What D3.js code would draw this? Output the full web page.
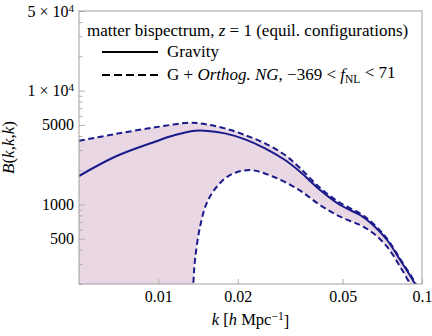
<!DOCTYPE html>
<html>
<head>
<meta charset="utf-8">
<script src="https://cdn.jsdelivr.net/npm/d3@7"></script>
<style>
  body { margin: 0; background: #fff; }
  svg text { font-family: "Liberation Serif", "Times New Roman", Times, "DejaVu Serif", serif; }
</style>
</head>
<body>
<div id="chart"></div>
<script>
// values (k in h/Mpc, B in arbitrary units)
var kGrav = [0.005, 0.00685, 0.00971, 0.01157, 0.01377, 0.0150, 0.0179, 0.02132, 0.02538, 0.03023, 0.03447, 0.04105, 0.0489, 0.0582, 0.0652, 0.0737, 0.0826, 0.0941, 0.098];
var bGrav = [1776, 2622, 3552, 4066, 4430, 4440, 4208, 3728, 3108, 2454, 1937, 1338, 988, 807, 659, 487, 325, 200, 160];

var kUpper = [0.005, 0.00685, 0.00971, 0.01318, 0.0150, 0.0179, 0.02132, 0.02538, 0.03023, 0.03447, 0.04105, 0.0489, 0.0582, 0.0652, 0.0737, 0.0826, 0.0941, 0.098];
var bUpper = [3624, 4150, 4752, 5215, 5078, 4656, 4066, 3439, 2714, 2086, 1400, 1030, 835, 680, 500, 333, 205, 165];

var kLower = [0.01345, 0.01357, 0.01377, 0.01439, 0.01526, 0.01665, 0.0187, 0.02227, 0.0273, 0.0339, 0.04105, 0.0489, 0.0582, 0.0652, 0.0737, 0.0826, 0.0901, 0.093];
var bLower = [140, 200, 325, 637, 1028, 1430, 1812, 2004, 1750, 1357, 988, 780, 659, 561, 425, 284, 200, 170];

var xTicks = [0.01, 0.02, 0.05, 0.1];
var xTickLabels = ["0.01", "0.02", "0.05", "0.1"];
var yTicks = [500, 1000, 5000, 10000, 50000];
var yTickLabels = ["500", "1000", "5000", "1 × 10|4", "5 × 10|4"];
var yMinor = [200, 300, 400, 600, 700, 800, 900, 2000, 3000, 4000, 6000, 7000, 8000, 9000, 20000, 30000, 40000];

var W = 432, H = 336;
var margin = { top: 11, right: 10, bottom: 52, left: 79 };
var width = W - margin.left - margin.right,
    height = H - margin.top - margin.bottom;

var serif = '"Liberation Serif", "Times New Roman", Times, "DejaVu Serif", serif';
var lineColor = "#1a1a8a";
var fillColor = "#e9d8e4";

var svg = d3.select("#chart").append("svg")
    .attr("width", W).attr("height", H)
    .style("font-family", serif);

var g = svg.append("g")
    .attr("transform", "translate(" + margin.left + "," + margin.top + ")");

var x = d3.scaleLog().domain([0.005, 0.1]).range([0, width]);
var y = d3.scaleLog().domain([200, 50000]).range([height, 0]);

g.append("clipPath").attr("id", "plotclip")
  .append("rect").attr("width", width).attr("height", height);

var pts = function (ks, bs) { return ks.map(function (k, i) { return [k, bs[i]]; }); };
var gravPts = pts(kGrav, bGrav),
    upperPts = pts(kUpper, bUpper),
    lowerPts = pts(kLower, bLower);

var line = d3.line()
    .x(function (d) { return x(d[0]); })
    .y(function (d) { return y(d[1]); })
    .curve(d3.curveCatmullRom.alpha(0.5));

// shaded band between the two dashed curves
var bandPath = line(upperPts) + "L" + line(lowerPts.slice().reverse()).slice(1)
    + "L" + x(0.005) + "," + y(100) + "Z";

var plot = g.append("g").attr("clip-path", "url(#plotclip)");

plot.append("path")
    .attr("d", bandPath)
    .attr("fill", fillColor)
    .attr("stroke", "none");

plot.append("path").datum(gravPts)
    .attr("d", line)
    .attr("fill", "none")
    .attr("stroke", lineColor)
    .attr("stroke-width", 2);

[upperPts, lowerPts].forEach(function (p) {
  plot.append("path").datum(p)
      .attr("d", line)
      .attr("fill", "none")
      .attr("stroke", lineColor)
      .attr("stroke-width", 2)
      .attr("stroke-dasharray", "6,3.5");
});

// axes (ticks point inward)
var yAxis = g.append("g")
    .call(d3.axisLeft(y).tickValues(yTicks).tickSize(-6).tickPadding(5)
      .tickFormat(function (d, i) { return yTickLabels[i]; }));
var yMinorAxis = g.append("g")
    .call(d3.axisLeft(y).tickValues(yMinor).tickSize(-3.5).tickFormat(""));
var xAxis = g.append("g")
    .attr("transform", "translate(0," + height + ")")
    .call(d3.axisBottom(x).tickValues(xTicks).tickSize(-5).tickPadding(7)
      .tickFormat(function (d, i) { return xTickLabels[i]; }));

[yAxis, yMinorAxis, xAxis].forEach(function (a) {
  a.attr("font-family", serif);
  a.select(".domain").remove();
  a.selectAll("line").attr("stroke", "#b0b0b0");
  a.selectAll("text").attr("fill", "#000").style("font-size", "16px");
});

// superscript for 10^4 labels
yAxis.selectAll("text").each(function (d, i) {
  var lab = yTickLabels[i];
  if (lab.indexOf("|") < 0) return;
  var parts = lab.split("|");
  var t = d3.select(this).text("");
  t.append("tspan").text(parts[0]);
  t.append("tspan").attr("dy", "-0.45em").style("font-size", "11px").text(parts[1]);
});

// frame
g.append("rect")
    .attr("width", width).attr("height", height)
    .attr("fill", "none")
    .attr("stroke", "#a0a0a0")
    .attr("stroke-width", 1);

// axis titles
var yl = svg.append("text")
    .attr("transform", "translate(14," + (margin.top + height / 2) + ") rotate(-90)")
    .attr("text-anchor", "middle")
    .style("font-size", "17px");
yl.append("tspan").style("font-style", "italic").text("B");
yl.append("tspan").text("(");
yl.append("tspan").style("font-style", "italic").text("k");
yl.append("tspan").text(",");
yl.append("tspan").style("font-style", "italic").text("k");
yl.append("tspan").text(",");
yl.append("tspan").style("font-style", "italic").text("k");
yl.append("tspan").text(")");

var xl = svg.append("text")
    .attr("x", margin.left + width / 2)
    .attr("y", 325)
    .attr("text-anchor", "middle")
    .style("font-size", "16.5px");
xl.append("tspan").style("font-style", "italic").text("k");
xl.append("tspan").text(" [");
xl.append("tspan").style("font-style", "italic").text("h");
xl.append("tspan").text(" Mpc");
xl.append("tspan").attr("dy", "-0.45em").style("font-size", "11.5px").text("−1");
xl.append("tspan").attr("dy", "0.45em").text("]");

// legend
var leg = svg.append("g").attr("transform", "translate(87,0)");
var title = leg.append("text").attr("x", 0).attr("y", 36).style("font-size", "17px");
title.append("tspan").text("matter bispectrum, ");
title.append("tspan").style("font-style", "italic").text("z");
title.append("tspan").text(" = 1 (equil. configurations)");

leg.append("line").attr("x1", 15).attr("x2", 71).attr("y1", 52).attr("y2", 52)
    .attr("stroke", "#000").attr("stroke-width", 2);
leg.append("text").attr("x", 80).attr("y", 57).style("font-size", "17px").text("Gravity");

leg.append("line").attr("x1", 15).attr("x2", 71).attr("y1", 75).attr("y2", 75)
    .attr("stroke", "#000").attr("stroke-width", 2).attr("stroke-dasharray", "8,4");
var l2 = leg.append("text").attr("x", 80).attr("y", 80).style("font-size", "17px");
l2.append("tspan").text("G + ");
l2.append("tspan").style("font-style", "italic").text("Orthog. NG");
l2.append("tspan").text(", −369 < ");
l2.append("tspan").style("font-style", "italic").text("f");
l2.append("tspan").attr("dy", "0.3em").style("font-size", "11.5px").text("NL");
l2.append("tspan").attr("dy", "-0.3em").text(" < 71");
</script>
</body>
</html>
